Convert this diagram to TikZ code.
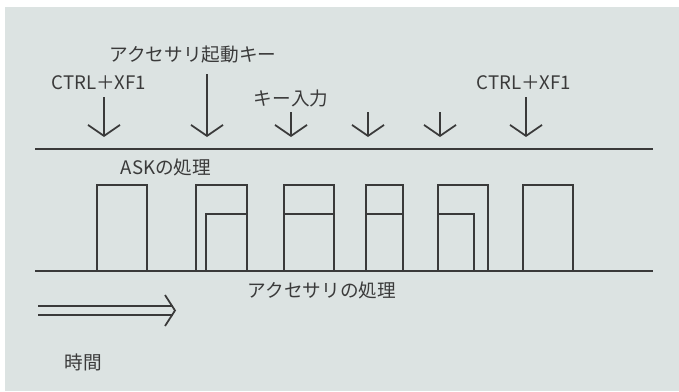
\documentclass[tikz,border=0pt]{standalone}
\usepackage{fontspec}
\usepackage{xcolor}
\usepackage{tikz}
\usetikzlibrary{arrows.meta}
\newfontfamily\jpfont{Noto Sans CJK JP}
\definecolor{paper}{HTML}{DCE3E2}
\definecolor{ink}{HTML}{3A3A3A}

\begin{document}
\begin{tikzpicture}[x=0.5mm,y=-0.5mm,
  lbl/.style={font=\jpfont\fontsize{26.5}{30}\selectfont, text=ink, inner sep=0pt},
  tl/.style={draw=ink, line width=2.5pt},
  keyarrow/.style={tl, -{Straight Barb[length=5.5mm,width=16mm]}}]
\fill[white] (0,0) rectangle (679,391);
\fill[paper] (5,7) rectangle (679,391);
\useasboundingbox (0,0) rectangle (679,391);

\node[lbl] (ctrlA) at (99,83) {CTRL＋XF1};
\node[lbl] (accKey) at (193,55) {アクセサリ起動キー};
\node[lbl] (keyIn) at (291,98) {キー入力};
\node[lbl] (ctrlB) at (524,83) {CTRL＋XF1};
\node[lbl] (askProc) at (166,167) {ASKの処理};
\node[lbl] (accProc) at (322,290) {アクセサリの処理};
\node[lbl] (jikan) at (83,362) {時間};

\coordinate (askL) at (35,149);
\coordinate (askR) at (653,149);
\coordinate (accL) at (35,271);
\coordinate (accR) at (653,271);
\draw[tl] (askL) -- (askR);
\draw[tl] (accL) -- (accR);

\draw[keyarrow] (104,97) -- (104,137);
\draw[keyarrow] (207,74) -- (207,137);
\draw[keyarrow] (291,112) -- (291,137);
\draw[keyarrow] (368,112) -- (368,137);
\draw[keyarrow] (440,112) -- (440,137);
\draw[keyarrow] (526,97) -- (526,137);

\draw[tl] (97,271) |- (147,185) -- (147,271);
\draw[tl] (196,271) |- (247,185) -- (247,271);
\draw[tl] (206,271) |- (247,214);
\draw[tl] (284,271) |- (334,185) -- (334,271);
\draw[tl] (284,214) -- (334,214);
\draw[tl] (366,271) |- (403,185) -- (403,271);
\draw[tl] (366,214) -- (403,214);
\draw[tl] (438,271) |- (488,185) -- (488,271);
\draw[tl] (438,214) -| (474,271);
\draw[tl] (523,271) |- (573,185) -- (573,271);

\draw[tl] (38,306) -- (173,306);
\draw[tl] (38,315) -- (173,315);
\draw[tl] (165,295) -- (175,310.5) -- (165,326);
\end{tikzpicture}
\end{document}
